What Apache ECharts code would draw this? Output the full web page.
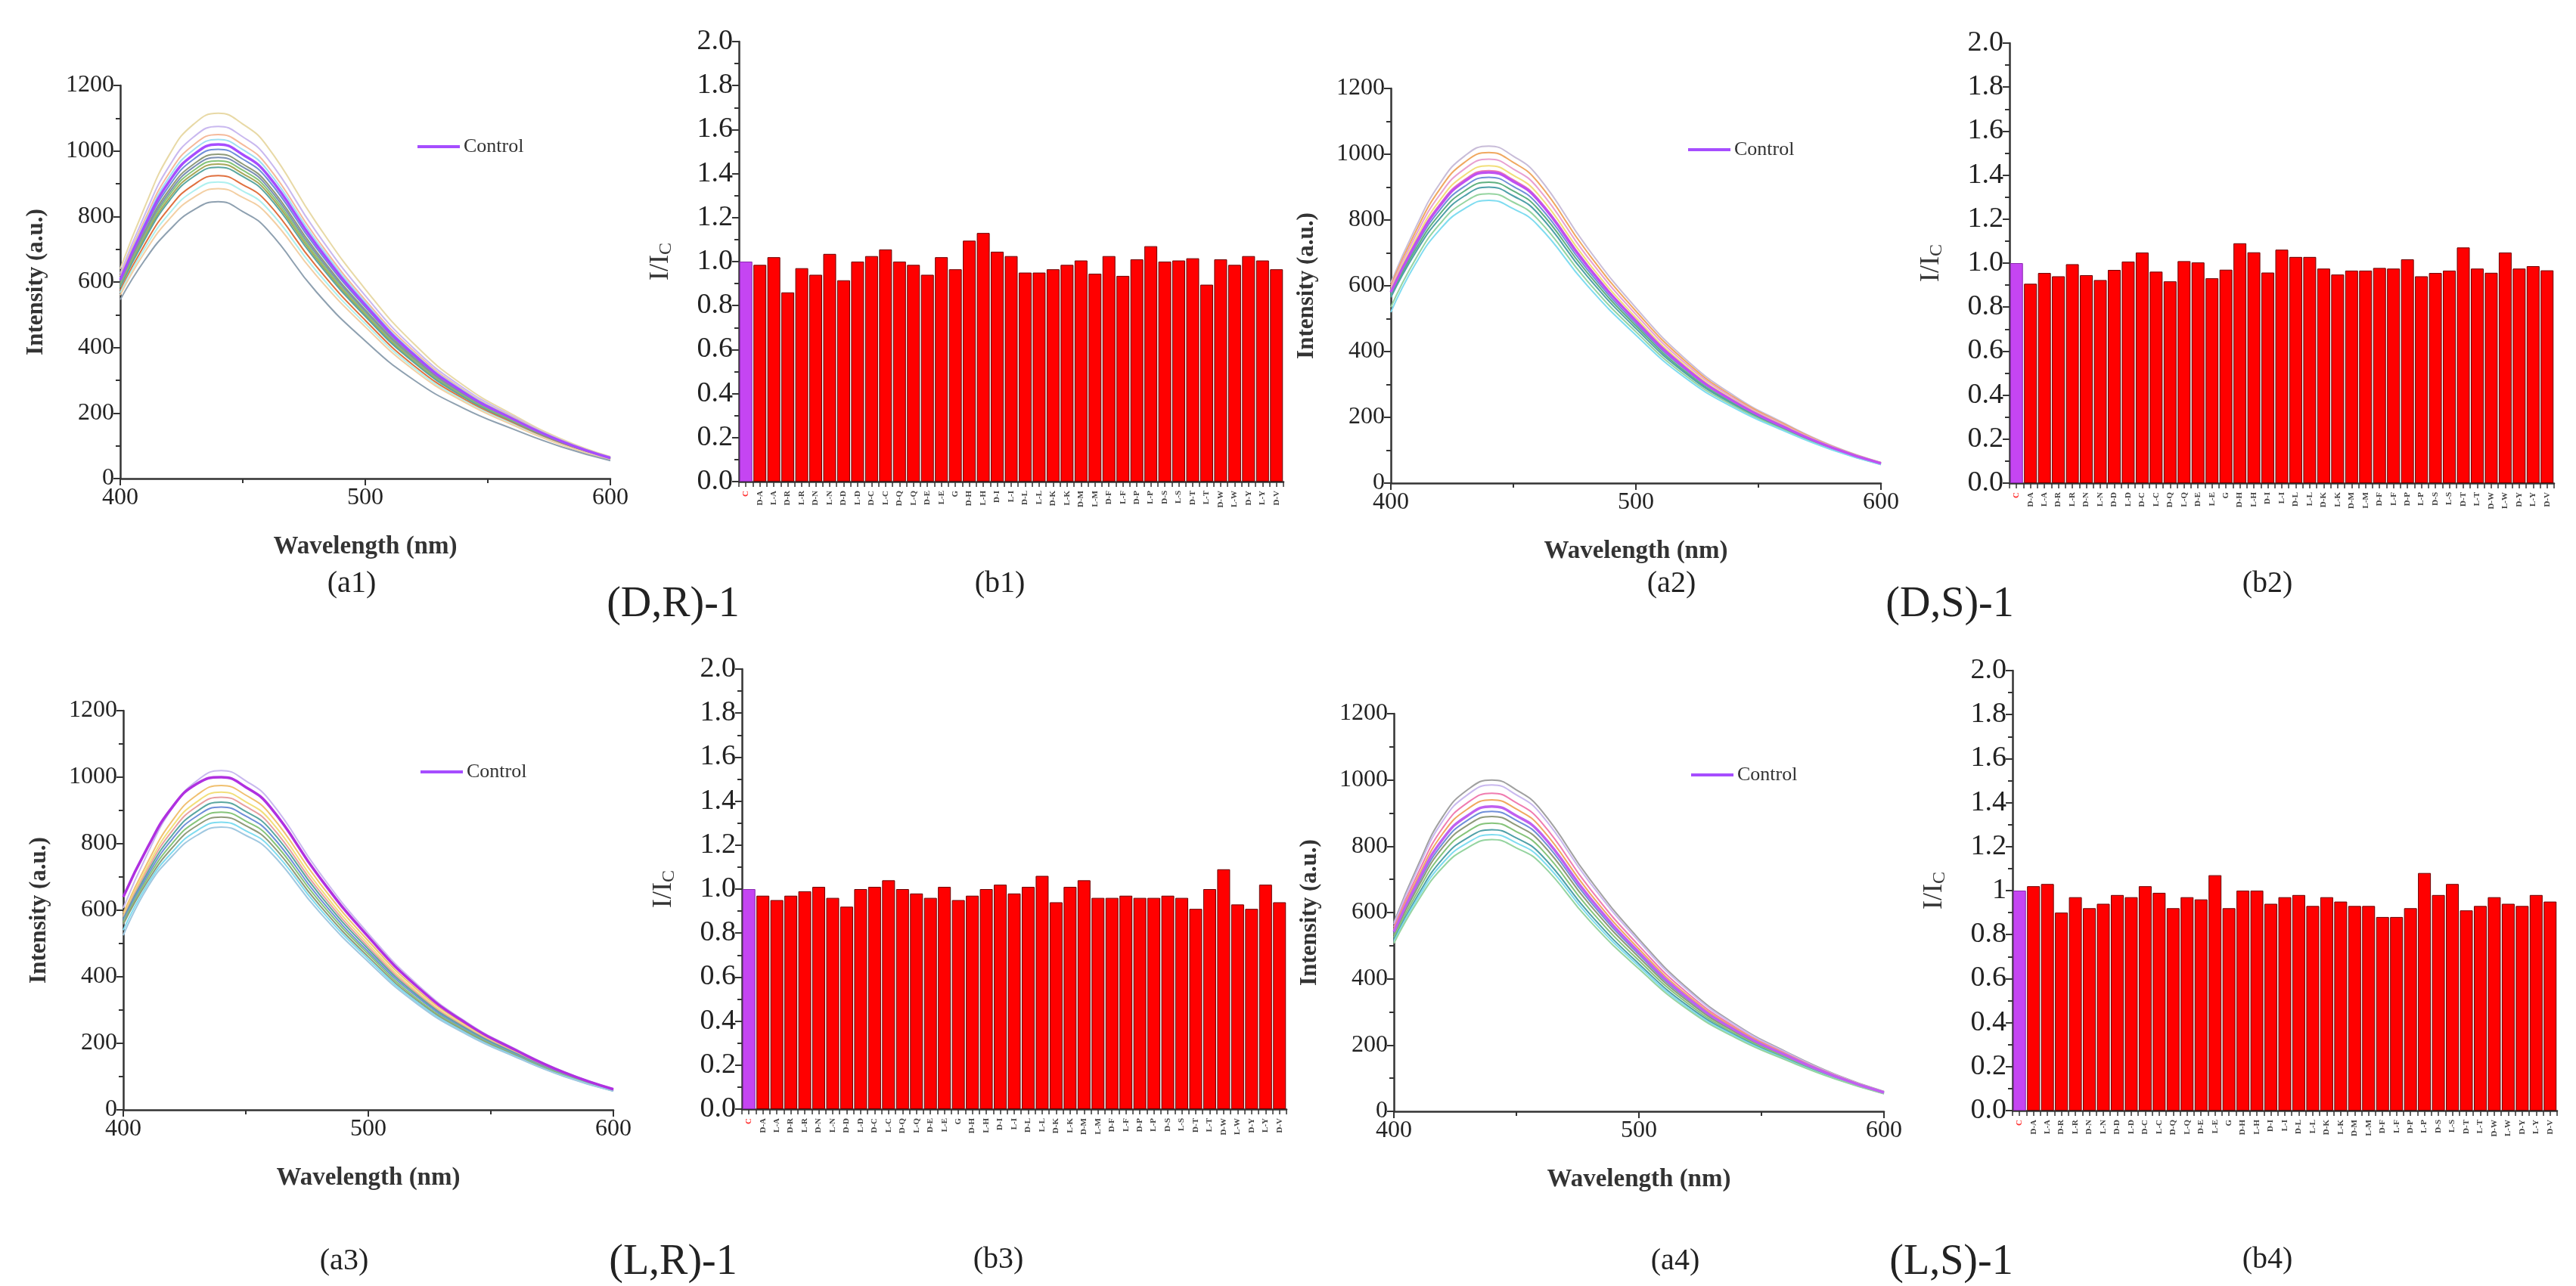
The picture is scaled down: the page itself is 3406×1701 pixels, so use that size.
<!DOCTYPE html>
<html><head><meta charset="utf-8">
<script src="https://cdn.jsdelivr.net/npm/echarts@6/dist/echarts.min.js"></script>
<style>html,body{margin:0;padding:0;background:#fff}#c{width:3406px;height:1701px}</style>
</head><body><div id="c"></div>
<script>
// ---------- data ----------
const wavelengths = [400,410,420,430,440,450,460,480,500,520,540,560,580,600];

const a1Control = [607,772,907,989,1020,989,928,714,530,377,264,183,114,63];
const a1Curves = [
 [640,829,988,1082,1115,1082,1014,781,578,410,285,196,121,67],
 [626,805,954,1043,1075,1043,978,753,558,396,277,191,118,65],
 [618,790,933,1019,1050,1019,955,735,545,388,271,187,116,64],
 [612,781,920,1004,1035,1004,942,725,538,382,268,185,115,63],
 [602,763,894,975,1005,975,915,704,523,372,261,181,112,62],
 [597,754,882,960,990,960,901,693,515,367,258,179,111,62],
 [593,748,873,951,980,951,892,686,510,363,256,177,110,61],
 [590,742,865,941,970,941,883,679,505,360,253,176,110,61],
 [586,736,856,931,960,931,874,672,500,356,251,174,109,60],
 [583,730,848,922,950,922,865,665,495,353,249,173,108,60],
 [574,715,826,897,925,897,843,648,483,344,244,170,106,59],
 [567,703,809,878,905,878,825,634,473,337,239,167,104,58],
 [560,691,792,858,885,858,807,620,463,330,235,164,103,57],
 [546,667,758,820,845,815,760,570,420,300,215,152,97,55]
];
const a2Control = [581,727,843,917,945,917,861,662,493,351,248,172,108,60];
const a2Curves = [
 [609,775,911,994,1025,994,933,718,533,379,266,184,114,63],
 [602,763,894,975,1005,975,915,704,523,372,261,181,112,62],
 [595,751,877,955,985,955,897,690,513,365,257,178,111,61],
 [588,739,860,936,965,936,879,676,503,358,252,175,109,61],
 [583,730,848,922,950,922,865,665,495,353,249,173,108,60],
 [576,718,831,902,930,902,847,651,485,346,245,170,106,59],
 [570,709,818,888,915,888,834,641,478,340,241,168,105,59],
 [565,700,805,873,900,873,820,630,470,335,238,166,104,58],
 [535,680,788,854,880,854,802,616,460,328,234,163,102,57],
 [520,666,771,834,860,834,784,602,450,321,229,160,101,56]
];
const a3Control = [640,790,910,980,1000,970,910,700,520,370,260,180,112,62];
const a3Curves = [
 [607,772,907,989,1020,989,928,714,530,377,264,183,114,63],
 [591,745,869,946,975,946,888,683,508,361,255,177,110,61],
 [584,733,852,926,955,926,870,669,498,354,250,174,108,60],
 [579,724,839,912,940,912,856,658,490,349,247,172,107,60],
 [574,715,826,897,925,897,843,648,483,344,244,170,106,59],
 [569,706,814,883,910,883,829,637,475,339,240,167,105,58],
 [563,697,801,868,895,868,816,627,468,333,237,165,104,58],
 [558,688,788,854,880,854,802,616,460,328,234,163,102,57],
 [540,679,775,839,865,839,789,606,453,323,230,161,101,57],
 [525,670,763,825,850,825,775,595,445,318,227,159,100,56]
];
const a4Control = [542,697,822,892,920,892,838,644,480,342,242,169,106,57];
const a4Curves = [
 [570,745,890,970,1000,970,910,700,520,370,260,180,112,60],
 [565,736,877,955,985,955,897,690,513,365,257,178,111,59],
 [556,721,856,931,960,931,874,672,500,356,251,174,109,58],
 [549,709,839,912,940,912,856,658,490,349,247,172,107,58],
 [537,688,809,878,905,878,825,634,473,337,239,167,104,56],
 [532,679,797,863,890,863,811,623,465,332,236,165,103,56],
 [525,667,780,844,870,844,793,609,455,325,231,162,102,55],
 [518,655,763,825,850,825,775,595,445,318,227,159,100,54],
 [512,646,750,810,835,810,762,585,438,312,224,157,99,54],
 [507,637,737,795,820,795,748,574,430,307,220,155,98,53]
];

const barCategories = ['C','D-A','L-A','D-R','L-R','D-N','L-N','D-D','L-D','D-C','L-C','D-Q','L-Q','D-E','L-E','G',
 'D-H','L-H','D-I','L-I','D-L','L-L','D-K','L-K','D-M','L-M','D-F','L-F','D-P','L-P','D-S','L-S','D-T','L-T','D-W','L-W','D-Y','L-Y','D-V'];
const b1Values = [1.00,0.985,1.02,0.86,0.97,0.94,1.035,0.915,1.00,1.025,1.055,1.00,0.985,0.94,1.02,0.965,1.095,1.13,1.045,1.025,0.95,0.95,0.965,0.985,1.005,0.945,1.025,0.935,1.01,1.07,1.00,1.005,1.015,0.895,1.01,0.985,1.025,1.005,0.965];
const b2Values = [1.00,0.906,0.955,0.94,0.995,0.945,0.923,0.969,1.007,1.048,0.961,0.917,1.009,1.003,0.931,0.97,1.09,1.049,0.957,1.061,1.028,1.028,0.975,0.948,0.966,0.966,0.978,0.975,1.017,0.94,0.955,0.966,1.071,0.975,0.956,1.048,0.975,0.986,0.967];
const b3Values = [1.00,0.97,0.95,0.97,0.99,1.01,0.96,0.92,1.00,1.01,1.04,1.00,0.98,0.96,1.01,0.95,0.97,1.00,1.02,0.98,1.01,1.06,0.94,1.01,1.04,0.96,0.96,0.97,0.96,0.96,0.97,0.96,0.91,1.00,1.09,0.93,0.91,1.02,0.94];
const b4Values = [1.00,1.02,1.03,0.90,0.97,0.92,0.94,0.98,0.97,1.02,0.99,0.92,0.97,0.96,1.07,0.92,1.00,1.00,0.94,0.97,0.98,0.93,0.97,0.95,0.93,0.93,0.88,0.88,0.92,1.08,0.98,1.03,0.91,0.93,0.97,0.94,0.93,0.98,0.95];

const intensityTickLabels = ['0','200','400','600','800','1000','1200'];
const barTickLabels = ['0.0','0.2','0.4','0.6','0.8','1.0','1.2','1.4','1.6','1.8','2.0'];
const barTickLabelsB4 = ['0.0','0.2','0.4','0.6','0.8','1','1.2','1.4','1.6','1.8','2.0'];

const panelLetters = ['(a1)','(b1)','(a2)','(b2)','(a3)','(b3)','(a4)','(b4)'];
const panelTitles = ['(D,R)-1','(D,S)-1','(L,R)-1','(L,S)-1'];
const legendText = 'Control';

// ---------- styling ----------
const FONT = "'Liberation Serif', 'Times New Roman', serif";
const AX = '#333';
const pal = [
 ['#e8d9a6','#c9b8ef','#f5b99a','#9fdff2','#6f8fd8','#8f9a7a','#7b8fb3','#86c47a','#a8a85a','#5aa7a0','#e0703f','#aef0ef','#f3cfa3','#8ea0b0'],
 ['#c8bcd8','#f0a860','#e8a0d0','#f2df7a','#f07cb0','#6f8fd8','#5fb080','#4fa0a8','#95d4a0','#7fdcf0'],
 ['#c9b8ef','#f0c070','#f2df7a','#e8a0a0','#5aa7a0','#6f8fd8','#86c47a','#8f9a7a','#7fdcf0','#a0c8e0'],
 ['#a0a0a0','#c9b8ef','#f07cb0','#f0a860','#6f8fd8','#8f9a7a','#86c47a','#4fa0a8','#7fdcf0','#95d4a0']
];
const ctrlColors = ['#a64dff','#c050f0','#b030e0','#c060f0'];

// layout (px)
const lineGrids = [
 {left:159, top:113, width:648, height:520},
 {left:1839, top:117, width:648, height:522},
 {left:163, top:940, width:648, height:528},
 {left:1843, top:944, width:648, height:526}
];
const barGrids = [
 {left:977, top:55, width:720, height:582},
 {left:2657, top:57, width:720, height:582},
 {left:981, top:885, width:720, height:582},
 {left:2661, top:887, width:720, height:582}
];

const lineCurves = [a1Curves,a2Curves,a3Curves,a4Curves];
const lineControls = [a1Control,a2Control,a3Control,a4Control];
const barValues = [b1Values,b2Values,b3Values,b4Values];

const grid = [], xAxis = [], yAxis = [], series = [], legend = [], graphic = [];

function pairs(arr){ return wavelengths.map((w,i)=>[w,arr[i]]); }

for (let p=0;p<4;p++){
  // line panel
  const gi = grid.length; grid.push(lineGrids[p]);
  const xi = xAxis.length;
  xAxis.push({type:'value', gridIndex:gi, min:400, max:600, interval:100,
    axisLine:{show:true,onZero:false,lineStyle:{color:AX,width:2.5}},
    axisTick:{show:true,length:9,lineStyle:{color:AX,width:2}},
    minorTick:{show:true,splitNumber:2,length:6,lineStyle:{color:AX,width:2}},
    splitLine:{show:false},
    axisLabel:{fontSize:32,color:'#222',fontFamily:FONT,margin:10},
    name:'Wavelength (nm)', nameLocation:'middle', nameGap:74,
    nameTextStyle:{fontSize:33,fontWeight:'bold',color:'#333',fontFamily:FONT}});
  const yi = yAxis.length;
  yAxis.push({type:'value', gridIndex:gi, min:0, max:1200, interval:200,
    axisLine:{show:true,onZero:false,lineStyle:{color:AX,width:2.5}},
    axisTick:{show:true,length:9,lineStyle:{color:AX,width:2}},
    minorTick:{show:true,splitNumber:2,length:6,lineStyle:{color:AX,width:2}},
    splitLine:{show:false},
    axisLabel:{fontSize:32,color:'#222',fontFamily:FONT,margin:8,
      formatter:(v)=>intensityTickLabels[Math.round(v/200)]},
    name:'Intensity (a.u.)', nameLocation:'middle', nameGap:96,
    nameTextStyle:{fontSize:31,fontWeight:'bold',color:'#333',fontFamily:FONT}});
  lineCurves[p].forEach((c,k)=>{
    series.push({type:'line', name:'s'+p+'_'+k, xAxisIndex:xi, yAxisIndex:yi, data:pairs(c),
      smooth:true, showSymbol:false, silent:true,
      lineStyle:{width:2,color:pal[p][k%pal[p].length]}});
  });
  series.push({type:'line', name:legendText, xAxisIndex:xi, yAxisIndex:yi, data:pairs(lineControls[p]),
    smooth:true, showSymbol:false, z:5, itemStyle:{color:ctrlColors[p]},
    lineStyle:{width:3.5,color:ctrlColors[p]}});
  const g = lineGrids[p];
  legend.push({data:[legendText], left:g.left+388, top:g.top+63, icon:'rect', itemWidth:56, itemHeight:4,
    itemGap:6, textStyle:{fontSize:26,fontFamily:FONT,color:'#333'}, selectedMode:false});

  // bar panel
  const bgi = grid.length; grid.push(barGrids[p]);
  const bxi = xAxis.length;
  xAxis.push({type:'category', gridIndex:bgi, data:barCategories, position:'bottom',
    axisLine:{show:true,onZero:false,lineStyle:{color:AX,width:2.5}},
    axisTick:{show:true,alignWithLabel:true,interval:0,length:7,lineStyle:{color:AX,width:1.5}},
    axisLabel:{interval:0,rotate:90,fontSize:11,fontWeight:'bold',fontFamily:FONT,margin:12,
      color:(v,i)=> i===0 ? '#ff3030' : '#444'},
    splitLine:{show:false}});
  xAxis.push({type:'category', gridIndex:bgi, data:barCategories, position:'bottom', offset:0,
    axisLine:{show:false}, axisLabel:{show:false},
    axisTick:{show:true,interval:0,length:7,lineStyle:{color:AX,width:1.5}}, splitLine:{show:false}});
  const byi = yAxis.length;
  const labs = p===3 ? barTickLabelsB4 : barTickLabels;
  yAxis.push({type:'value', gridIndex:bgi, min:0, max:2, interval:0.2,
    axisLine:{show:true,onZero:false,lineStyle:{color:AX,width:2.5}},
    axisTick:{show:true,length:9,lineStyle:{color:AX,width:2}},
    minorTick:{show:true,splitNumber:2,length:6,lineStyle:{color:AX,width:2}},
    splitLine:{show:false},
    axisLabel:{fontSize:38,color:'#222',fontFamily:FONT,margin:8,
      formatter:(v)=>labs[Math.round(v/0.2)]},
    name:'{n|I/I}{s|C}', nameLocation:'middle', nameGap:84,
    nameTextStyle:{color:'#333',fontFamily:FONT,
      rich:{n:{fontSize:36,fontFamily:FONT,color:'#333'},
            s:{fontSize:24,fontFamily:FONT,color:'#333',padding:[14,0,0,0]}}}});
  series.push({type:'bar', name:'bar'+p, xAxisIndex:bxi, yAxisIndex:byi,
    data:barValues[p].map((v,i)=> i===0 ? {value:v,itemStyle:{color:'#c545f2',borderColor:'#8a2ab0'}} : v),
    barCategoryGap:'8%', silent:true,
    itemStyle:{color:'#ff0000',borderColor:'#6b0000',borderWidth:1}});
}

// panel labels
const letterPos = [[465,772],[1322,772],[2210,772],[2998,772],[455,1668],[1320,1666],[2215,1668],[2998,1666]];
letterPos.forEach((xy,i)=>graphic.push({type:'text', x:xy[0], y:xy[1], silent:true,
  style:{text:panelLetters[i], fontSize:40, fontFamily:FONT, fill:'#222', align:'center', verticalAlign:'middle'}}));
const titlePos = [[890,800],[2578,800],[890,1670],[2580,1670]];
titlePos.forEach((xy,i)=>graphic.push({type:'text', x:xy[0], y:xy[1], silent:true,
  style:{text:panelTitles[i], fontSize:56, fontFamily:FONT, fill:'#222', align:'center', verticalAlign:'middle'}}));

const chart = echarts.init(document.getElementById('c'));
chart.setOption({backgroundColor:'#fff', animation:false, grid, xAxis, yAxis, series, legend, graphic});
</script></body></html>
